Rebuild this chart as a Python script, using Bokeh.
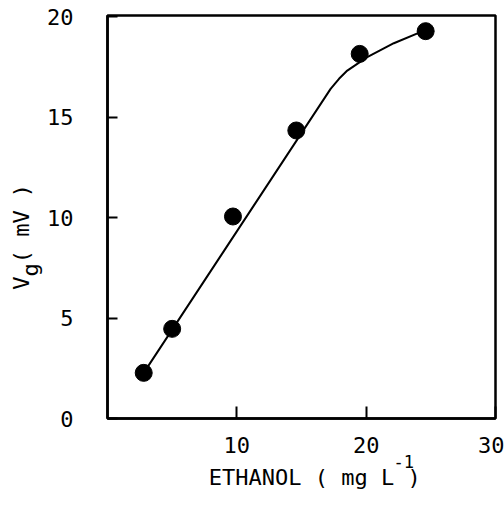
from bokeh.plotting import figure
from bokeh.models import Range1d, FixedTicker, LinearAxis
from bokeh.embed import file_html
from bokeh.resources import INLINE

# Data
ethanol = [2.8, 5.0, 9.7, 14.6, 19.5, 24.6]
vg = [2.27, 4.46, 10.05, 14.33, 18.14, 19.27]

curve_x = [2.8, 17.25, 17.9, 18.54, 20.08, 22.14, 24.2, 24.6]
curve_y = [2.27, 16.4, 16.9, 17.31, 17.98, 18.67, 19.22, 19.27]

x_ticks = [10, 20, 30]
y_ticks = [0, 5, 10, 15, 20]

FONT = "DejaVu Sans Mono"
FS = "22px"
NB = "\u00a0"

p = figure(width=504, height=505, output_backend="svg", toolbar_location=None,
           x_range=Range1d(0, 30), y_range=Range1d(0, 20.05),
           min_border_left=107, min_border_right=9,
           min_border_top=15, min_border_bottom=87)

p.grid.visible = False
p.outline_line_color = "black"
p.outline_line_width = 2.5
p.background_fill_color = "white"
p.border_fill_color = "white"

for ax in (p.xaxis[0], p.yaxis[0]):
    ax.axis_line_width = 2.5
    ax.axis_line_color = "black"
    ax.major_tick_line_width = 2
    ax.major_tick_out = 0
    ax.minor_tick_line_color = None
    ax.major_label_text_font = FONT
    ax.major_label_text_font_size = FS
    ax.major_label_text_color = "black"
    ax.axis_label_text_font = FONT
    ax.axis_label_text_font_style = "normal"
    ax.axis_label_text_color = "black"

p.xaxis.ticker = FixedTicker(ticks=x_ticks)
p.xaxis.major_tick_in = 12
p.xaxis.major_label_standoff = 18
p.yaxis.ticker = FixedTicker(ticks=y_ticks)
p.yaxis.major_tick_in = 10
p.yaxis.major_label_standoff = 34

# inner labels: superscript "-1" and subscript "g"
p.xaxis.axis_label = NB * 20 + "-1"
p.xaxis.axis_label_text_font_size = "17px"
p.xaxis.axis_label_standoff = -4

p.yaxis.axis_label = "g" + NB * 8
p.yaxis.axis_label_text_font_size = FS
p.yaxis.axis_label_standoff = 1


def outer_axis(label, standoff):
    ax = LinearAxis(ticker=FixedTicker(ticks=[]), axis_line_color=None,
                    major_tick_line_color=None, minor_tick_line_color=None,
                    major_tick_in=0, major_tick_out=0, major_label_standoff=0,
                    axis_label=label, axis_label_standoff=standoff,
                    axis_label_text_font=FONT, axis_label_text_font_size=FS,
                    axis_label_text_font_style="normal",
                    axis_label_text_color="black")
    return ax


p.add_layout(outer_axis(NB * 2 + "ETHANOL ( mg L )", -10), "below")
p.add_layout(outer_axis("V ( mV )" + NB * 3, -18), "left")

p.line(curve_x, curve_y, line_color="black", line_width=2)
p.scatter(ethanol, vg, size=17, fill_color="black", line_color="black")

open("out.html", "w").write(file_html(p, INLINE))
